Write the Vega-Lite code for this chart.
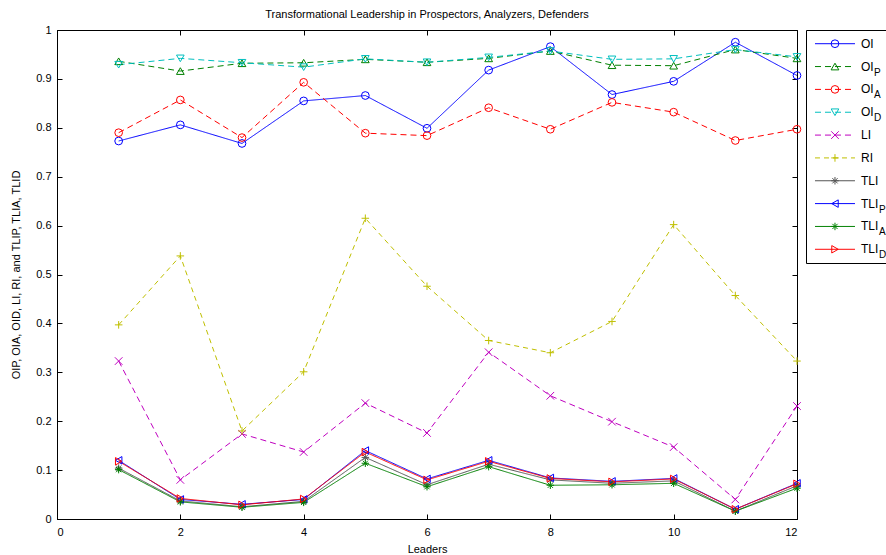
{
  "$schema": "https://vega.github.io/schema/vega-lite/v6.json",
  "padding": {"left": 10, "top": 8, "right": 0, "bottom": 0},
  "spacing": 1,
  "config": {
    "font": "Liberation Sans",
    "view": {"stroke": "#000000", "strokeWidth": 1},
    "axis": {"grid": false, "labelFont": "Liberation Sans", "titleFont": "Liberation Sans", "labelFontSize": 11, "titleFontSize": 11, "titleFontWeight": "normal", "labelColor": "#000000", "titleColor": "#000000", "domainColor": "#000000", "tickColor": "#000000"},
    "title": {"font": "Liberation Sans", "fontSize": 11, "fontWeight": "normal", "color": "#000000"}
  },
  "datasets": {
    "series": [
      {"series": "OI", "x": 1, "y": 0.773}, {"series": "OI", "x": 2, "y": 0.806}, {"series": "OI", "x": 3, "y": 0.768}, {"series": "OI", "x": 4, "y": 0.855}, {"series": "OI", "x": 5, "y": 0.866}, {"series": "OI", "x": 6, "y": 0.799}, {"series": "OI", "x": 7, "y": 0.918}, {"series": "OI", "x": 8, "y": 0.966}, {"series": "OI", "x": 9, "y": 0.868}, {"series": "OI", "x": 10, "y": 0.895}, {"series": "OI", "x": 11, "y": 0.975}, {"series": "OI", "x": 12, "y": 0.907},
      {"series": "OI_P", "x": 1, "y": 0.936}, {"series": "OI_P", "x": 2, "y": 0.916}, {"series": "OI_P", "x": 3, "y": 0.932}, {"series": "OI_P", "x": 4, "y": 0.933}, {"series": "OI_P", "x": 5, "y": 0.940}, {"series": "OI_P", "x": 6, "y": 0.934}, {"series": "OI_P", "x": 7, "y": 0.942}, {"series": "OI_P", "x": 8, "y": 0.957}, {"series": "OI_P", "x": 9, "y": 0.928}, {"series": "OI_P", "x": 10, "y": 0.927}, {"series": "OI_P", "x": 11, "y": 0.960}, {"series": "OI_P", "x": 12, "y": 0.942},
      {"series": "OI_A", "x": 1, "y": 0.790}, {"series": "OI_A", "x": 2, "y": 0.857}, {"series": "OI_A", "x": 3, "y": 0.780}, {"series": "OI_A", "x": 4, "y": 0.893}, {"series": "OI_A", "x": 5, "y": 0.789}, {"series": "OI_A", "x": 6, "y": 0.784}, {"series": "OI_A", "x": 7, "y": 0.841}, {"series": "OI_A", "x": 8, "y": 0.797}, {"series": "OI_A", "x": 9, "y": 0.852}, {"series": "OI_A", "x": 10, "y": 0.832}, {"series": "OI_A", "x": 11, "y": 0.774}, {"series": "OI_A", "x": 12, "y": 0.797},
      {"series": "OI_D", "x": 1, "y": 0.929}, {"series": "OI_D", "x": 2, "y": 0.942}, {"series": "OI_D", "x": 3, "y": 0.933}, {"series": "OI_D", "x": 4, "y": 0.924}, {"series": "OI_D", "x": 5, "y": 0.941}, {"series": "OI_D", "x": 6, "y": 0.934}, {"series": "OI_D", "x": 7, "y": 0.944}, {"series": "OI_D", "x": 8, "y": 0.957}, {"series": "OI_D", "x": 9, "y": 0.940}, {"series": "OI_D", "x": 10, "y": 0.941}, {"series": "OI_D", "x": 11, "y": 0.960}, {"series": "OI_D", "x": 12, "y": 0.945},
      {"series": "LI", "x": 1, "y": 0.323}, {"series": "LI", "x": 2, "y": 0.080}, {"series": "LI", "x": 3, "y": 0.174}, {"series": "LI", "x": 4, "y": 0.137}, {"series": "LI", "x": 5, "y": 0.237}, {"series": "LI", "x": 6, "y": 0.176}, {"series": "LI", "x": 7, "y": 0.341}, {"series": "LI", "x": 8, "y": 0.252}, {"series": "LI", "x": 9, "y": 0.199}, {"series": "LI", "x": 10, "y": 0.147}, {"series": "LI", "x": 11, "y": 0.040}, {"series": "LI", "x": 12, "y": 0.231},
      {"series": "RI", "x": 1, "y": 0.397}, {"series": "RI", "x": 2, "y": 0.538}, {"series": "RI", "x": 3, "y": 0.180}, {"series": "RI", "x": 4, "y": 0.301}, {"series": "RI", "x": 5, "y": 0.615}, {"series": "RI", "x": 6, "y": 0.476}, {"series": "RI", "x": 7, "y": 0.365}, {"series": "RI", "x": 8, "y": 0.340}, {"series": "RI", "x": 9, "y": 0.404}, {"series": "RI", "x": 10, "y": 0.602}, {"series": "RI", "x": 11, "y": 0.457}, {"series": "RI", "x": 12, "y": 0.323},
      {"series": "TLI", "x": 1, "y": 0.104}, {"series": "TLI", "x": 2, "y": 0.037}, {"series": "TLI", "x": 3, "y": 0.025}, {"series": "TLI", "x": 4, "y": 0.036}, {"series": "TLI", "x": 5, "y": 0.126}, {"series": "TLI", "x": 6, "y": 0.070}, {"series": "TLI", "x": 7, "y": 0.112}, {"series": "TLI", "x": 8, "y": 0.080}, {"series": "TLI", "x": 9, "y": 0.073}, {"series": "TLI", "x": 10, "y": 0.078}, {"series": "TLI", "x": 11, "y": 0.016}, {"series": "TLI", "x": 12, "y": 0.068},
      {"series": "TLI_P", "x": 1, "y": 0.120}, {"series": "TLI_P", "x": 2, "y": 0.040}, {"series": "TLI_P", "x": 3, "y": 0.030}, {"series": "TLI_P", "x": 4, "y": 0.040}, {"series": "TLI_P", "x": 5, "y": 0.140}, {"series": "TLI_P", "x": 6, "y": 0.082}, {"series": "TLI_P", "x": 7, "y": 0.120}, {"series": "TLI_P", "x": 8, "y": 0.084}, {"series": "TLI_P", "x": 9, "y": 0.077}, {"series": "TLI_P", "x": 10, "y": 0.083}, {"series": "TLI_P", "x": 11, "y": 0.020}, {"series": "TLI_P", "x": 12, "y": 0.073},
      {"series": "TLI_A", "x": 1, "y": 0.101}, {"series": "TLI_A", "x": 2, "y": 0.035}, {"series": "TLI_A", "x": 3, "y": 0.024}, {"series": "TLI_A", "x": 4, "y": 0.034}, {"series": "TLI_A", "x": 5, "y": 0.114}, {"series": "TLI_A", "x": 6, "y": 0.066}, {"series": "TLI_A", "x": 7, "y": 0.107}, {"series": "TLI_A", "x": 8, "y": 0.069}, {"series": "TLI_A", "x": 9, "y": 0.070}, {"series": "TLI_A", "x": 10, "y": 0.073}, {"series": "TLI_A", "x": 11, "y": 0.016}, {"series": "TLI_A", "x": 12, "y": 0.063},
      {"series": "TLI_D", "x": 1, "y": 0.118}, {"series": "TLI_D", "x": 2, "y": 0.042}, {"series": "TLI_D", "x": 3, "y": 0.029}, {"series": "TLI_D", "x": 4, "y": 0.041}, {"series": "TLI_D", "x": 5, "y": 0.137}, {"series": "TLI_D", "x": 6, "y": 0.080}, {"series": "TLI_D", "x": 7, "y": 0.118}, {"series": "TLI_D", "x": 8, "y": 0.083}, {"series": "TLI_D", "x": 9, "y": 0.076}, {"series": "TLI_D", "x": 10, "y": 0.082}, {"series": "TLI_D", "x": 11, "y": 0.020}, {"series": "TLI_D", "x": 12, "y": 0.072}
    ],
    "legend": [
      {"series": "OI", "base": "OI", "sub": ""},
      {"series": "OI_P", "base": "OI", "sub": "P"},
      {"series": "OI_A", "base": "OI", "sub": "A"},
      {"series": "OI_D", "base": "OI", "sub": "D"},
      {"series": "LI", "base": "LI", "sub": ""},
      {"series": "RI", "base": "RI", "sub": ""},
      {"series": "TLI", "base": "TLI", "sub": ""},
      {"series": "TLI_P", "base": "TLI", "sub": "P"},
      {"series": "TLI_A", "base": "TLI", "sub": "A"},
      {"series": "TLI_D", "base": "TLI", "sub": "D"}
    ]
  },
  "hconcat": [
    {
      "width": 740,
      "height": 489,
      "title": {"text": "Transformational Leadership in Prospectors, Analyzers, Defenders", "offset": 4, "anchor": "middle"},
      "data": {"name": "series"},
      "layer": [
        {
          "mark": {"type": "line", "strokeWidth": 1},
          "encoding": {
            "x": {"field": "x", "type": "quantitative", "scale": {"domain": [0, 12], "nice": false, "zero": false},
                  "axis": {"values": [0, 2, 4, 6, 8, 10, 12], "format": "d", "tickSize": -5, "labelPadding": 12, "title": "Leaders", "titlePadding": 6}},
            "y": {"field": "y", "type": "quantitative", "scale": {"domain": [0, 1], "nice": false},
                  "axis": {"values": [0, 0.1, 0.2, 0.3, 0.4, 0.5, 0.6, 0.7, 0.8, 0.9, 1], "format": "~g", "tickSize": -5, "labelPadding": 11, "title": "OIP, OIA, OID, LI, RI, and TLIP, TLIA, TLID", "titlePadding": 14}},
            "color": {"field": "series", "type": "nominal", "legend": null,
                      "scale": {"domain": ["OI", "OI_P", "OI_A", "OI_D", "LI", "RI", "TLI", "TLI_P", "TLI_A", "TLI_D"],
                                "range": ["#0000FF", "#008000", "#FF0000", "#00BFBF", "#BF00BF", "#BFBF00", "#555555", "#0000FF", "#008000", "#FF0000"]}},
            "strokeDash": {"field": "series", "type": "nominal", "legend": null,
                           "scale": {"domain": ["OI", "OI_P", "OI_A", "OI_D", "LI", "RI", "TLI", "TLI_P", "TLI_A", "TLI_D"],
                                     "range": [[1, 0], [6, 4], [6, 4], [6, 4], [6, 4], [5, 4], [1, 0], [1, 0], [1, 0], [1, 0]]}}
          }
        },
        {
          "mark": {"type": "point", "filled": false, "strokeWidth": 1, "opacity": 1},
          "encoding": {
            "x": {"field": "x", "type": "quantitative", "axis": null},
            "y": {"field": "y", "type": "quantitative", "axis": null},
            "color": {"field": "series", "type": "nominal", "legend": null,
                      "scale": {"domain": ["OI", "OI_P", "OI_A", "OI_D", "LI", "RI", "TLI", "TLI_P", "TLI_A", "TLI_D"],
                                "range": ["#0000FF", "#008000", "#FF0000", "#00BFBF", "#BF00BF", "#BFBF00", "#555555", "#0000FF", "#008000", "#FF0000"]}},
            "shape": {"field": "series", "type": "nominal", "legend": null,
                      "scale": {"domain": ["OI", "OI_P", "OI_A", "OI_D", "LI", "RI", "TLI", "TLI_P", "TLI_A", "TLI_D"],
                                "range": ["circle", "triangle-up", "circle", "triangle-down", "M-1,-1L1,1M-1,1L1,-1", "M-1,0L1,0M0,-1L0,1", "M-1,0L1,0M0,-1L0,1M-0.7,-0.7L0.7,0.7M-0.7,0.7L0.7,-0.7", "triangle-left", "M-1,0L1,0M0,-1L0,1M-0.7,-0.7L0.7,0.7M-0.7,0.7L0.7,-0.7", "triangle-right"]}},
            "size": {"field": "series", "type": "nominal", "legend": null,
                     "scale": {"domain": ["OI", "OI_P", "OI_A", "OI_D", "LI", "RI", "TLI", "TLI_P", "TLI_A", "TLI_D"],
                               "range": [60, 55, 60, 55, 20, 70, 40, 55, 40, 55]}}
          }
        },
        {
          "mark": {"type": "point", "opacity": 0},
          "encoding": {
            "x": {"field": "x", "type": "quantitative", "axis": {"orient": "top", "values": [0, 2, 4, 6, 8, 10, 12], "labels": false, "title": null, "tickSize": -5, "domain": false, "minExtent": 0, "maxExtent": 0}},
            "y": {"field": "y", "type": "quantitative", "axis": {"orient": "right", "values": [0, 0.1, 0.2, 0.3, 0.4, 0.5, 0.6, 0.7, 0.8, 0.9, 1], "labels": false, "title": null, "tickSize": -5, "domain": false, "minExtent": 0, "maxExtent": 0}}
          }
        }
      ],
      "resolve": {"axis": {"x": "independent", "y": "independent"}}
    },
    {
      "width": 84,
      "height": 233,
      "data": {"name": "legend"},
      "encoding": {
        "y": {"field": "series", "type": "nominal", "axis": null,
              "scale": {"type": "point", "padding": 0.6, "domain": ["OI", "OI_P", "OI_A", "OI_D", "LI", "RI", "TLI", "TLI_P", "TLI_A", "TLI_D"]}}
      },
      "layer": [
        {
          "mark": {"type": "rule", "strokeWidth": 1},
          "encoding": {
            "x": {"datum": 0.107, "type": "quantitative", "scale": {"domain": [0, 1], "nice": false, "zero": false}, "axis": null},
            "x2": {"datum": 0.583},
            "color": {"field": "series", "type": "nominal", "legend": null,
                      "scale": {"domain": ["OI", "OI_P", "OI_A", "OI_D", "LI", "RI", "TLI", "TLI_P", "TLI_A", "TLI_D"],
                                "range": ["#0000FF", "#008000", "#FF0000", "#00BFBF", "#BF00BF", "#BFBF00", "#555555", "#0000FF", "#008000", "#FF0000"]}},
            "strokeDash": {"field": "series", "type": "nominal", "legend": null,
                           "scale": {"domain": ["OI", "OI_P", "OI_A", "OI_D", "LI", "RI", "TLI", "TLI_P", "TLI_A", "TLI_D"],
                                     "range": [[1, 0], [6, 4], [6, 4], [6, 4], [6, 4], [5, 4], [1, 0], [1, 0], [1, 0], [1, 0]]}}
          }
        },
        {
          "mark": {"type": "point", "filled": false, "strokeWidth": 1, "opacity": 1},
          "encoding": {
            "x": {"datum": 0.345, "type": "quantitative"},
            "color": {"field": "series", "type": "nominal", "legend": null,
                      "scale": {"domain": ["OI", "OI_P", "OI_A", "OI_D", "LI", "RI", "TLI", "TLI_P", "TLI_A", "TLI_D"],
                                "range": ["#0000FF", "#008000", "#FF0000", "#00BFBF", "#BF00BF", "#BFBF00", "#555555", "#0000FF", "#008000", "#FF0000"]}},
            "shape": {"field": "series", "type": "nominal", "legend": null,
                      "scale": {"domain": ["OI", "OI_P", "OI_A", "OI_D", "LI", "RI", "TLI", "TLI_P", "TLI_A", "TLI_D"],
                                "range": ["circle", "triangle-up", "circle", "triangle-down", "M-1,-1L1,1M-1,1L1,-1", "M-1,0L1,0M0,-1L0,1", "M-1,0L1,0M0,-1L0,1M-0.7,-0.7L0.7,0.7M-0.7,0.7L0.7,-0.7", "triangle-left", "M-1,0L1,0M0,-1L0,1M-0.7,-0.7L0.7,0.7M-0.7,0.7L0.7,-0.7", "triangle-right"]}},
            "size": {"field": "series", "type": "nominal", "legend": null,
                     "scale": {"domain": ["OI", "OI_P", "OI_A", "OI_D", "LI", "RI", "TLI", "TLI_P", "TLI_A", "TLI_D"],
                               "range": [60, 55, 60, 55, 20, 70, 40, 55, 40, 55]}}
          }
        },
        {
          "mark": {"type": "text", "align": "left", "baseline": "middle", "fontSize": 12, "color": "#000000"},
          "encoding": {"x": {"datum": 0.655, "type": "quantitative"}, "text": {"field": "base"}}
        },
        {
          "transform": [{"filter": "datum.base === 'OI'"}],
          "mark": {"type": "text", "align": "left", "baseline": "middle", "fontSize": 10, "dx": 13, "dy": 6, "color": "#000000"},
          "encoding": {"x": {"datum": 0.655, "type": "quantitative"}, "text": {"field": "sub"}}
        },
        {
          "transform": [{"filter": "datum.base === 'TLI'"}],
          "mark": {"type": "text", "align": "left", "baseline": "middle", "fontSize": 10, "dx": 18, "dy": 6, "color": "#000000"},
          "encoding": {"x": {"datum": 0.655, "type": "quantitative"}, "text": {"field": "sub"}}
        }
      ]
    }
  ]
}
